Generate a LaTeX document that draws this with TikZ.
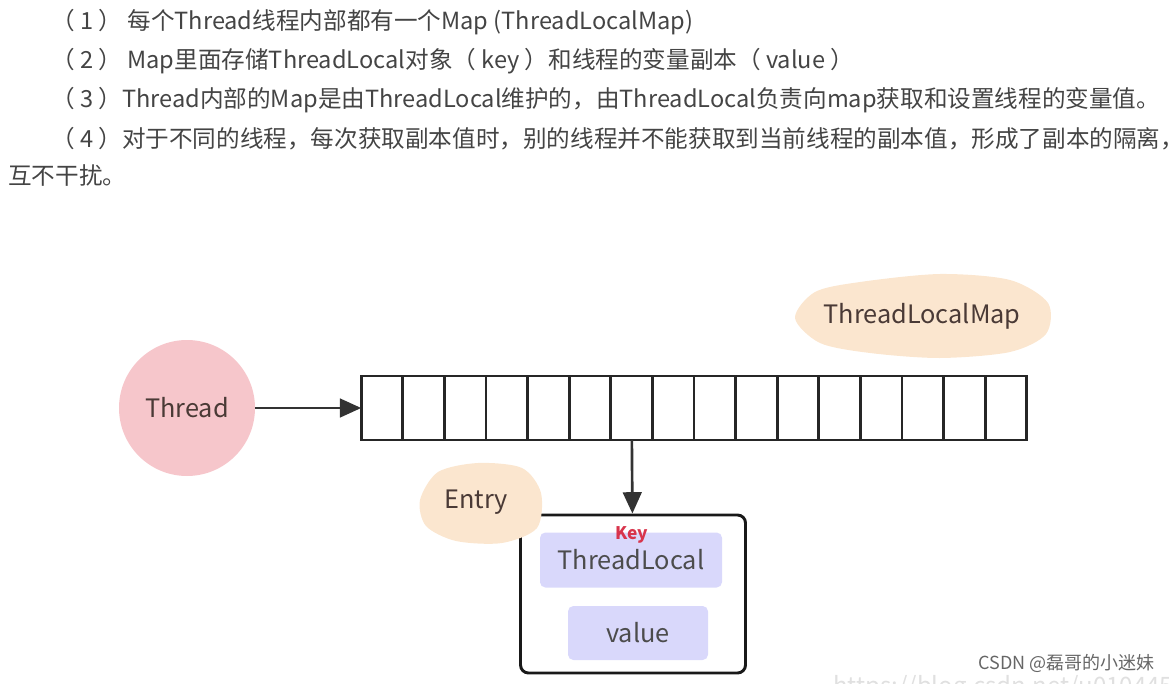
\documentclass[tikz,border=0pt]{standalone}
\usepackage{fontspec}
\setmainfont{Noto Sans CJK SC}
\usetikzlibrary{arrows.meta, positioning}
\definecolor{threadPink}{HTML}{F6C6CB}
\definecolor{blobPeach}{HTML}{FBE6CF}
\definecolor{slotLilac}{HTML}{D9D8FB}
\definecolor{textGray}{HTML}{444444}
\definecolor{textBrown}{HTML}{4A3A36}
\definecolor{keyRed}{HTML}{D8344C}

\begin{document}
\begin{tikzpicture}[x=0.75pt, y=-0.75pt,
    note/.style={anchor=west, inner sep=0pt, font=\fontsize{17.7}{20}\selectfont, text=textGray},
    cell/.style={rectangle, draw=black!85, line width=2pt, minimum width=31.2pt,
                 minimum height=48pt, inner sep=0pt, outer sep=0pt},
    slot/.style={rectangle, rounded corners=4pt, fill=slotLilac, text=black!70,
                 font=\fontsize{19}{21}\selectfont},
    link/.style={-{Triangle[length=16pt, width=14pt]}, line width=2pt, draw=black!80},
    blob/.style={fill=blobPeach, draw=none},
    label/.style={font=\fontsize{19}{21}\selectfont, text=textBrown},
  ]
  \useasboundingbox (0,0) rectangle (1169,684);

  % explanation lines
  \node[note] (l1) at (51,22) {（ 1 ） 每个Thread线程内部都有一个Map (ThreadLocalMap)};
  \node[note] (l2) at (51,61) {（ 2 ） Map里面存储ThreadLocal对象（ key ）和线程的变量副本（ value ）};
  \node[note] (l3) at (51,100) {（ 3 ）Thread内部的Map是由ThreadLocal维护的，由ThreadLocal负责向map获取和设置线程的变量值。};
  \node[note] (l4) at (51,139) {（ 4 ）对于不同的线程，每次获取副本值时，别的线程并不能获取到当前线程的副本值，形成了副本的隔离，};
  \node[note] (l5) at (8,176) {互不干扰。};

  % thread and its map
  \node[circle, fill=threadPink, minimum size=102pt, label] (thread) at (187,408) {Thread};
  \node[cell] (c1) at (382,408) {};
  \foreach \i [count=\prev from 1] in {2,...,16}
    \node[cell, right=0pt of c\prev] (c\i) {};
  \draw[link] (thread) -- (c1);

  \fill[blob] plot[smooth cycle] coordinates {(795,318) (815,292) (860,282) (940,274)
    (1010,280) (1048,303) (1046,334) (1010,352) (940,358) (870,353) (820,343)};
  \node[label] (mapLabel) at (922,316) {ThreadLocalMap};

  % one entry of the map
  \node[rectangle, rounded corners=6pt, draw=black!90, line width=2.2pt,
        minimum width=168.75pt, minimum height=118.5pt] (entry) at (633,594) {};
  \draw[link] (c7) -- (entry);
  \node[slot, minimum width=136.5pt, minimum height=41.25pt] (tlocal) at (631,560) {ThreadLocal};
  \node[slot, minimum width=105pt, minimum height=40.5pt] (val) at (638,633) {value};
  \node[font=\bfseries\fontsize{13}{14}\selectfont, text=keyRed, inner sep=0pt] (key) at (632,535) {Key};

  \fill[blob] plot[smooth cycle] coordinates {(420,500) (438,472) (478,463) (522,468)
    (541,493) (537,528) (502,543) (456,541) (426,526)};
  \node[label] (entryLabel) at (476,502) {Entry};

  % watermark
  \node[anchor=west, inner sep=0pt, font=\fontsize{18}{20}\selectfont, text=black!12] (url) at (833,688) {https://blog.csdn.net/u010445301};
  \node[anchor=east, inner sep=0pt, font=\fontsize{13.5}{15}\selectfont, text=black!60] (mark) at (1155,663) {CSDN @磊哥的小迷妹};
\end{tikzpicture}
\end{document}
